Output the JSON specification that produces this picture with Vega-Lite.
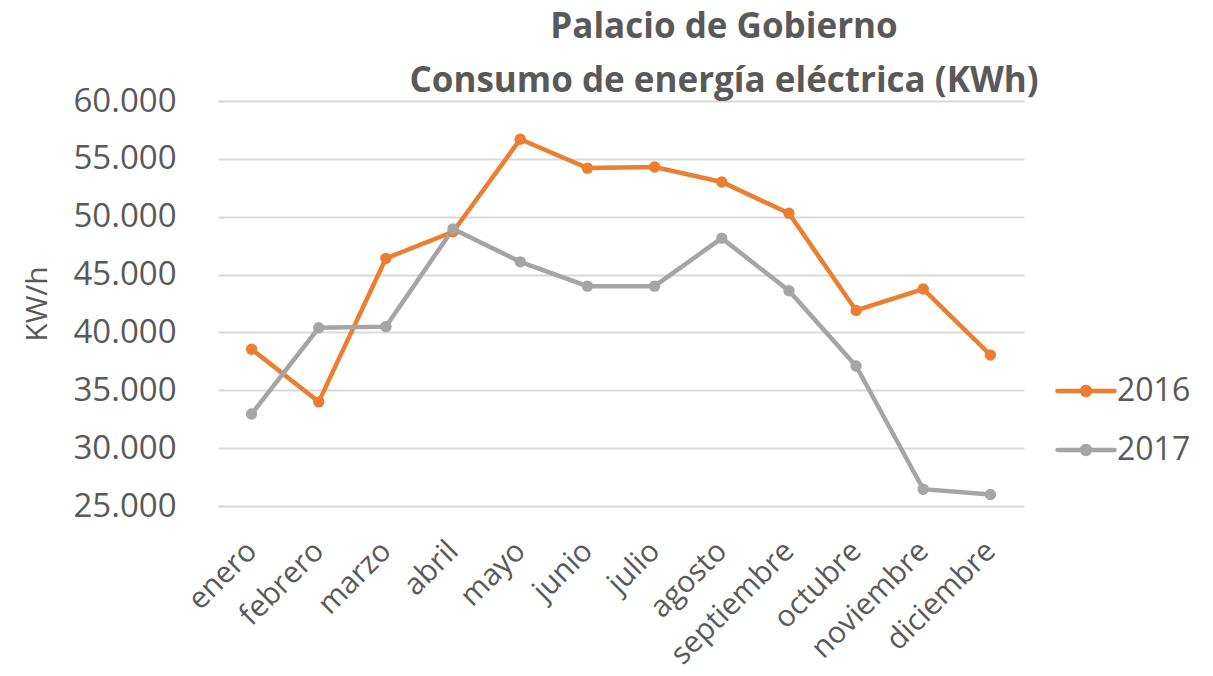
{
  "$schema": "https://vega.github.io/schema/vega-lite/v6.json",
  "width": 806,
  "height": 405,
  "autosize": {"type": "none"},
  "padding": {"left": 218, "top": 101, "right": 189, "bottom": 170},
  "background": "white",
  "config": {
    "locale": {"number": {"decimal": ",", "thousands": ".", "grouping": [3], "currency": ["", " €"]}},
    "view": {"stroke": null},
    "font": "Open Sans"
  },
  "title": {
    "text": ["Palacio de Gobierno", "Consumo de energía eléctrica (KWh)"],
    "font": "Open Sans",
    "fontSize": 35,
    "fontWeight": "bold",
    "color": "#595959",
    "anchor": "middle",
    "frame": "group",
    "dx": 103,
    "dy": 20,
    "offset": 6,
    "lineHeight": 54
  },
  "data": {
    "values": [
      {"mes": "enero", "anio": "2016", "kwh": 38550},
      {"mes": "febrero", "anio": "2016", "kwh": 34000},
      {"mes": "marzo", "anio": "2016", "kwh": 46400},
      {"mes": "abril", "anio": "2016", "kwh": 48700},
      {"mes": "mayo", "anio": "2016", "kwh": 56700},
      {"mes": "junio", "anio": "2016", "kwh": 54200},
      {"mes": "julio", "anio": "2016", "kwh": 54300},
      {"mes": "agosto", "anio": "2016", "kwh": 53000},
      {"mes": "septiembre", "anio": "2016", "kwh": 50300},
      {"mes": "octubre", "anio": "2016", "kwh": 41900},
      {"mes": "noviembre", "anio": "2016", "kwh": 43750},
      {"mes": "diciembre", "anio": "2016", "kwh": 38050},
      {"mes": "enero", "anio": "2017", "kwh": 32950},
      {"mes": "febrero", "anio": "2017", "kwh": 40400},
      {"mes": "marzo", "anio": "2017", "kwh": 40500},
      {"mes": "abril", "anio": "2017", "kwh": 48950},
      {"mes": "mayo", "anio": "2017", "kwh": 46100},
      {"mes": "junio", "anio": "2017", "kwh": 44000},
      {"mes": "julio", "anio": "2017", "kwh": 44000},
      {"mes": "agosto", "anio": "2017", "kwh": 48150},
      {"mes": "septiembre", "anio": "2017", "kwh": 43600},
      {"mes": "octubre", "anio": "2017", "kwh": 37100},
      {"mes": "noviembre", "anio": "2017", "kwh": 26450},
      {"mes": "diciembre", "anio": "2017", "kwh": 26000}
    ]
  },
  "encoding": {
    "x": {
      "field": "mes",
      "type": "nominal",
      "sort": null,
      "scale": {"type": "point", "padding": 0.5},
      "axis": {
        "title": null,
        "labelAngle": -45,
        "labelAlign": "right",
        "labelBaseline": "middle",
        "labelFont": "Open Sans",
        "labelFontSize": 30,
        "labelColor": "#595959",
        "labelPadding": 40,
        "labelDx": -8,
        "ticks": false,
        "domain": false,
        "grid": false
      }
    },
    "y": {
      "field": "kwh",
      "type": "quantitative",
      "scale": {"domain": [25000, 60000], "nice": false, "zero": false},
      "axis": {
        "title": "KW/h",
        "titleFont": "Open Sans",
        "titleFontSize": 30,
        "titleFontWeight": "normal",
        "titleColor": "#595959",
        "titlePadding": 20,
        "values": [25000, 30000, 35000, 40000, 45000, 50000, 55000, 60000],
        "format": ",.0f",
        "labelFont": "Open Sans",
        "labelFontSize": 33,
        "labelColor": "#595959",
        "labelPadding": 42,
        "ticks": false,
        "domain": false,
        "grid": true,
        "gridColor": "#D9D9D9",
        "gridWidth": 2
      }
    },
    "color": {
      "field": "anio",
      "type": "nominal",
      "scale": {"domain": ["2016", "2017"], "range": ["#ED7D31", "#A5A5A5"]},
      "legend": {
        "title": null,
        "orient": "none",
        "legendX": 837,
        "legendY": 259,
        "symbolType": "M-1,0L1,0M-0.14,0A0.14,0.14,0,1,1,0.14,0A0.14,0.14,0,1,1,-0.14,0Z",
        "symbolSize": 3249,
        "symbolStrokeWidth": 4.5,
        "labelFont": "Open Sans",
        "labelFontSize": 32,
        "labelColor": "#595959",
        "labelOffset": 0,
        "rowPadding": 12,
        "encode": {"symbols": {"update": {"fill": {"scale": "color", "field": "value"}, "strokeCap": {"value": "round"}}}}
      }
    }
  },
  "layer": [
    {"mark": {"type": "line", "strokeWidth": 4.5}},
    {"mark": {"type": "point", "filled": true, "size": 130, "opacity": 1}}
  ]
}
